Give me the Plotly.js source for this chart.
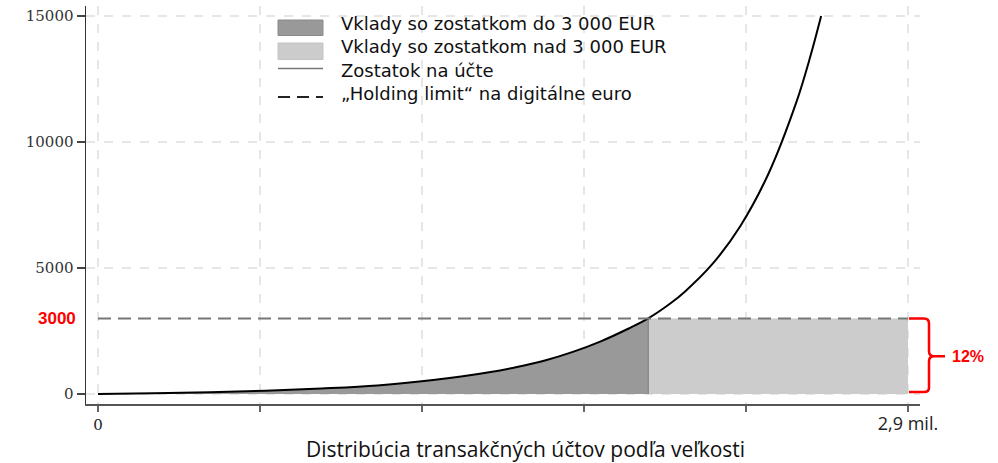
<!DOCTYPE html>
<html><head><meta charset="utf-8">
<script src="https://cdn.plot.ly/plotly-3.0.1.min.js"></script>
<style>html,body{margin:0;padding:0;background:#fff}#chart{width:998px;height:463px}</style>
</head><body><div id="chart"></div>
<script>
// ---- Data (x: accounts, millions; y: balance, EUR) ----
const curveX = [0, 0.2, 0.4, 0.6, 0.8, 1.0, 1.2, 1.3, 1.4, 1.5, 1.6, 1.7, 1.8, 1.9, 1.97, 2.05, 2.1, 2.2, 2.3, 2.4, 2.5, 2.55, 2.589];
const curveY = [0, 25, 70, 130, 220, 340, 553, 690, 860, 1070, 1330, 1670, 2090, 2600, 3000, 3600, 4050, 5160, 6670, 8730, 11570, 13380, 15000];
const holdingLimit = 3000;
const splitX = 1.97;
const maxX = 2.9;
const shareAbove = '12%';
const seriesNames = [
  'Vklady so zostatkom do 3 000 EUR',
  'Vklady so zostatkom nad 3 000 EUR',
  'Zostatok na účte',
  '„Holding limit“ na digitálne euro'
];
const yTickVals = [0, 5000, 10000, 15000];
const yTickText = ['0', '5000', '10000', '15000'];
const xTickVals = [0, 0.58, 1.16, 1.74, 2.32, 2.9];
const xTickText = ['0', '', '', '', '', '<span style="font-family:\'Open Sans\';font-size:18px">2,9 mil.</span>'];
const xTitle = 'Distribúcia transakčných účtov podľa veľkosti';
const limitLabel = '3000';

// ---- Layout geometry ----
const W = 998, H = 463;
const M = {l: 86, r: 78, t: 6, b: 59, pad: 0};
const pw = W - M.l - M.r, ph = H - M.t - M.b;
const px2x = p => (p - M.l) / pw;
const py2y = p => (H - M.b - p) / ph;

// ---- Derived series ----
const lowX = [], lowY = [];
curveX.forEach((x, i) => { if (x <= splitX) { lowX.push(x); lowY.push(curveY[i]); } });

const traces = [
  { x: lowX, y: lowY, type: 'scatter', mode: 'lines', fill: 'tozeroy',
    fillcolor: '#999999', line: {width: 0, shape: 'spline'}, name: seriesNames[0],
    showlegend: false, hoverinfo: 'skip' },
  { x: [splitX, maxX, maxX, splitX, splitX], y: [0, 0, holdingLimit, holdingLimit, 0],
    type: 'scatter', mode: 'lines', fill: 'toself', fillcolor: '#cccccc',
    line: {width: 0}, name: seriesNames[1], showlegend: false, hoverinfo: 'skip' },
  { x: [splitX, splitX], y: [0, holdingLimit], type: 'scatter', mode: 'lines',
    line: {color: '#8a8a8a', width: 1.5}, showlegend: false, hoverinfo: 'skip' },
  { x: curveX, y: curveY, type: 'scatter', mode: 'lines',
    line: {color: '#000000', width: 2, shape: 'spline', smoothing: 1}, name: seriesNames[2], showlegend: false },
  { x: [0, maxX], y: [holdingLimit, holdingLimit], type: 'scatter', mode: 'lines',
    line: {color: '#777777', width: 2, dash: '13px,7px'}, name: seriesNames[3], showlegend: false }
];

// ---- Manual legend ----
const swX0 = 278, swX1 = 323, txtX = 339;
const shapes = [
  {type: 'rect', xref: 'paper', yref: 'paper', x0: px2x(swX0), x1: px2x(swX1), y0: py2y(35.5), y1: py2y(20),
   fillcolor: '#999999', line: {color: '#8a8a8a', width: 1}},
  {type: 'rect', xref: 'paper', yref: 'paper', x0: px2x(swX0), x1: px2x(swX1), y0: py2y(59.5), y1: py2y(43),
   fillcolor: '#cccccc', line: {color: '#c4c4c4', width: 1}},
  {type: 'line', xref: 'paper', yref: 'paper', x0: px2x(swX0), x1: px2x(swX1), y0: py2y(68.5), y1: py2y(68.5),
   line: {color: '#777777', width: 1.5}},
  {type: 'line', xref: 'paper', yref: 'paper', x0: px2x(swX0), x1: px2x(swX1), y0: py2y(97), y1: py2y(97),
   line: {color: '#222222', width: 2, dash: '12px,7px'}},
  // red brace (x in pixels from right edge of plot, y in data units)
  {type: 'path', xref: 'paper', xsizemode: 'pixel', xanchor: 1, yref: 'y',
   path: 'M -11,' + holdingLimit + ' L 4,' + holdingLimit + ' Q 9,' + holdingLimit + ' 9,2800 L 9,1700 Q 9,1500 14,1500 L 25,1500 M 14,1500 Q 9,1500 9,1300 L 9,250 Q 9,80 4,80 L -11,80',
   line: {color: '#ff0000', width: 2.5}}
];

const annotations = [{
  text: seriesNames.join('<br>'), xref: 'paper', yref: 'paper', x: px2x(txtX), y: py2y(58),
  xanchor: 'left', yanchor: 'middle', align: 'left', showarrow: false,
  font: {family: 'DejaVu Sans', size: 18, color: '#111111'}
}];
annotations.push(
  {text: '<b>' + limitLabel + '</b>', xref: 'paper', yref: 'y', x: 0, y: holdingLimit, xshift: -8,
   xanchor: 'right', yanchor: 'middle', showarrow: false,
   font: {family: 'Liberation Sans', size: 17, color: '#ff0000'}},
  {text: '<b>' + shareAbove + '</b>', xref: 'paper', yref: 'y', x: 1, y: 1500, xshift: 30,
   xanchor: 'left', yanchor: 'middle', showarrow: false,
   font: {family: 'Liberation Sans', size: 16, color: '#ff0000'}},
  {text: xTitle, xref: 'paper', yref: 'paper', x: px2x(525), y: py2y(449),
   xanchor: 'center', yanchor: 'middle', showarrow: false,
   font: {family: 'Open Sans', size: 21, color: '#111111'}}
);

const layout = {
  width: W, height: H, margin: M,
  paper_bgcolor: '#ffffff', plot_bgcolor: '#ffffff',
  showlegend: false,
  xaxis: {
    range: [-0.043, 2.943], tickvals: xTickVals, ticktext: xTickText,
    showgrid: true, gridcolor: '#e6e6e6', gridwidth: 1.5, griddash: 'dash',
    zeroline: false, showline: true, linecolor: '#555555', linewidth: 1.5,
    ticks: 'outside', ticklen: 6, tickcolor: '#666666', tickwidth: 1.2,
    tickfont: {family: 'DejaVu Serif', size: 15, color: '#222222'}
  },
  yaxis: {
    range: [-397, 15397], tickvals: yTickVals, ticktext: yTickText,
    showgrid: true, gridcolor: '#e6e6e6', gridwidth: 1.5, griddash: 'dash',
    zeroline: false, showline: true, linecolor: '#333333', linewidth: 1.5,
    ticks: 'outside', ticklen: 8, tickcolor: '#444444', tickwidth: 1.2,
    tickfont: {family: 'DejaVu Serif', size: 15, color: '#333333'}
  },
  shapes: shapes,
  annotations: annotations
};

Plotly.newPlot('chart', traces, layout, {displayModeBar: false, staticPlot: true});
</script>
</body></html>
